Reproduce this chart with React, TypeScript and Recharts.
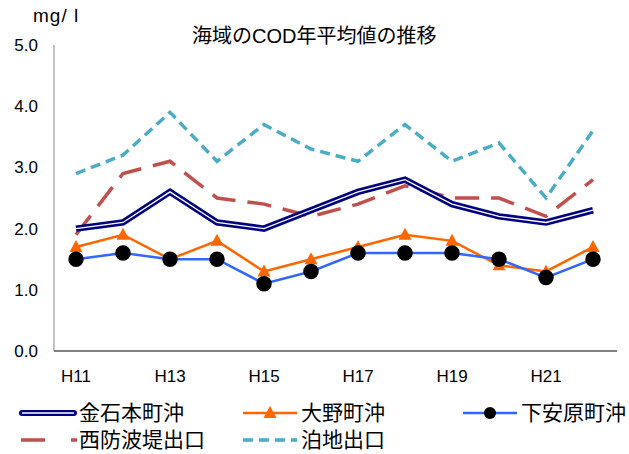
import { LineChart, Line, XAxis, YAxis } from 'recharts';

const years = ['H11', 'H12', 'H13', 'H14', 'H15', 'H16', 'H17', 'H18', 'H19', 'H20', 'H21', 'H22'];
const kanaiwa = [2.0, 2.1, 2.6, 2.1, 2.0, 2.3, 2.6, 2.8, 2.4, 2.2, 2.1, 2.3];
const ono = [1.7, 1.9, 1.5, 1.8, 1.3, 1.5, 1.7, 1.9, 1.8, 1.4, 1.3, 1.7];
const shimoyasuhara = [1.5, 1.6, 1.5, 1.5, 1.1, 1.3, 1.6, 1.6, 1.6, 1.5, 1.2, 1.5];
const nishiBreakwater = [1.9, 2.9, 3.1, 2.5, 2.4, 2.2, 2.4, 2.7, 2.5, 2.5, 2.2, 2.8];
const anchorage = [2.9, 3.2, 3.9, 3.1, 3.7, 3.3, 3.1, 3.7, 3.1, 3.4, 2.5, 3.6];
const yTicks = [0, 1, 2, 3, 4, 5];

const data = years.map((y, i) => ({
  year: y,
  kanaiwa: kanaiwa[i],
  ono: ono[i],
  shimo: shimoyasuhara[i],
  nishi: nishiBreakwater[i],
  tomari: anchorage[i],
}));

const jp = '"Liberation Sans", "Noto Sans CJK JP", sans-serif';

const Triangle = (props: any) => {
  const { cx, cy } = props;
  if (cx == null || cy == null) return null;
  return <path d={`M${cx},${cy - 7} L${cx + 6.5},${cy + 5} L${cx - 6.5},${cy + 5} Z`} fill="#FF6600" />;
};

function LegendRow({ x, y, sample, label }: { x: number; y: number; sample: any; label: string }) {
  return (
    <div style={{ position: 'absolute', left: x, top: y, display: 'flex', alignItems: 'center', height: 26 }}>
      <svg width={58} height={20} style={{ marginRight: 2 }}>{sample}</svg>
      <span style={{ fontSize: 21, fontFamily: jp, color: '#000', lineHeight: '26px' }}>{label}</span>
    </div>
  );
}

export default function App() {
  return (
    <div style={{ position: 'absolute', left: 0, top: 0, width: 629, height: 454, background: '#fff' }}>
      <div style={{ position: 'absolute', left: 33, top: 5, fontSize: 19, fontFamily: jp, letterSpacing: 1 }}>mg/ l</div>
      <div style={{ position: 'absolute', left: 192, top: 20, fontSize: 20, fontFamily: jp, whiteSpace: 'nowrap' }}>
        海域のCOD年平均値の推移
      </div>
      <LineChart width={629} height={454} data={data} margin={{ top: 45, right: 12, left: 10, bottom: 0 }}>
        <XAxis
          dataKey="year"
          interval={1}
          height={103}
          padding={{ left: 22, right: 24 }}
          tickLine={false}
          axisLine={{ stroke: '#000', strokeWidth: 1.2 }}
          tick={{ fill: '#000', fontSize: 17, fontFamily: jp }}
          dy={11}
        />
        <YAxis
          domain={[0, 5]}
          ticks={yTicks}
          width={44}
          tickLine={false}
          axisLine={{ stroke: '#888' }}
          tickFormatter={(v: number) => v.toFixed(1)}
          tick={{ fill: '#000', fontSize: 17, fontFamily: jp }}
          dx={-8}
        />
        <Line dataKey="tomari" stroke="#4BACC6" strokeWidth={3.5} strokeDasharray="10 6" dot={false} isAnimationActive={false} />
        <Line dataKey="nishi" stroke="#C0504D" strokeWidth={3.5} strokeDasharray="24 12" dot={false} isAnimationActive={false} />
        <Line dataKey="kanaiwa" stroke="#000080" strokeWidth={6.5} dot={false} isAnimationActive={false} />
        <Line dataKey="kanaiwa" stroke="#fff" strokeWidth={1.3} dot={false} isAnimationActive={false} legendType="none" />
        <Line dataKey="ono" stroke="#FF6600" strokeWidth={2.5} dot={<Triangle />} isAnimationActive={false} />
        <Line dataKey="shimo" stroke="#3366FF" strokeWidth={2.5} dot={{ r: 6.5, fill: '#000', stroke: '#000' }} isAnimationActive={false} />
      </LineChart>
      <LegendRow x={19} y={400} label="金石本町沖" sample={
        <g><line x1={3} y1={10} x2={55} y2={10} stroke="#000080" strokeWidth={6} strokeLinecap="round" /><line x1={3} y1={10} x2={55} y2={10} stroke="#fff" strokeWidth={1.3} /></g>
      } />
      <LegendRow x={241} y={400} label="大野町沖" sample={
        <g><line x1={2} y1={10} x2={56} y2={10} stroke="#FF6600" strokeWidth={2.5} /><path d="M29,3 L35.5,15 L22.5,15 Z" fill="#FF6600" /></g>
      } />
      <LegendRow x={461} y={400} label="下安原町沖" sample={
        <g><line x1={2} y1={10} x2={56} y2={10} stroke="#3366FF" strokeWidth={2.5} /><circle cx={29} cy={10} r={6} fill="#000" /></g>
      } />
      <LegendRow x={19} y={427} label="西防波堤出口" sample={
        <g><line x1={2} y1={10} x2={58} y2={10} stroke="#C0504D" strokeWidth={3.5} strokeDasharray="24 26" /></g>
      } />
      <LegendRow x={241} y={427} label="泊地出口" sample={
        <g><line x1={2} y1={10} x2={56} y2={10} stroke="#4BACC6" strokeWidth={3.5} strokeDasharray="10 6" /></g>
      } />
    </div>
  );
}
